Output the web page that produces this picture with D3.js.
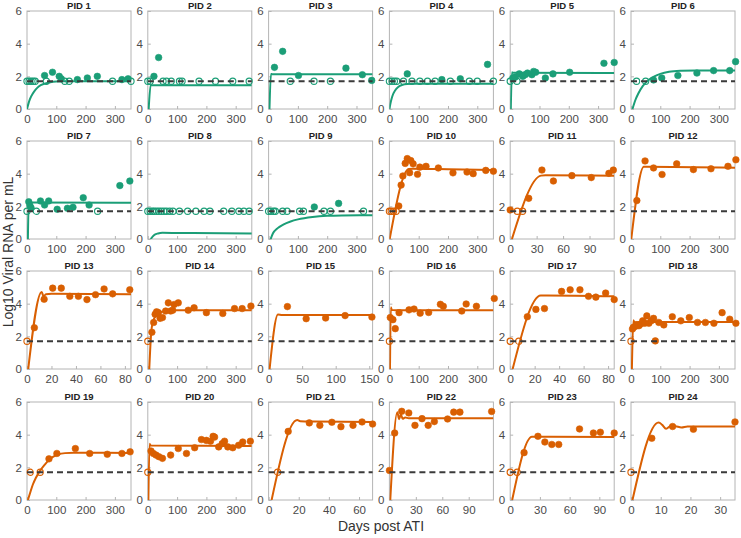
<!DOCTYPE html>
<html><head><meta charset="utf-8">
<script src="https://cdn.jsdelivr.net/npm/d3@7"></script>
<style>
body{margin:0;background:#fff;}
text{font-family:"Liberation Sans",Arial,Helvetica,sans-serif;}
</style></head>
<body>
<svg id="chart" width="741" height="538"></svg>
<script>
// ---------- DATA ----------
const pidLabels = d3.range(1, 25).map(i => "PID " + i);
const xMaxes = [355,355,355,355,355,355,355,355,355,355,118,355,85,355,155,355,85,355,355,355,69,118,105,35];
const xSteps = [100,100,100,100,100,100,100,100,100,100,30,100,20,100,50,100,20,100,100,100,20,30,30,10];
const yTicks = [0, 2, 4, 6];
const lod = 1.7;
const groupColors = ["#1b9e77", "#d95f02"];

// filled observations [day, log10 VL]
const obs1 = [[60,2.05],[87,2.25],[110,2.0],[117,1.85],[172,1.8],[206,1.9],[240,2.0],[324,1.8],[345,1.85]];
const obs2 = [[21,2.0],[37,3.15]];
const obs3 = [[20,2.55],[48,3.53],[102,2.05],[264,2.5],[320,2.1],[352,1.75]];
const obs4 = [[61,2.15],[179,1.8],[242,1.85],[335,2.73]];
const obs5 = [[9,1.9],[17,1.95],[31,2.15],[43,2.0],[51,2.1],[59,2.2],[74,2.1],[80,2.3],[87,2.25],[120,1.9],[146,2.15],[203,2.25],[320,2.8],[355,2.85]];
const obs6 = [[77,1.78],[105,1.9],[160,2.05],[225,2.2],[282,2.35],[337,2.35],[357,2.9]];
const obs7 = [[6,2.28],[10,2.05],[14,1.9],[46,2.33],[60,2.08],[74,2.33],[103,1.82],[138,1.88],[157,1.94],[192,2.53],[212,2.08],[317,3.27],[351,3.55]];
const obs8 = [];
const obs9 = [[156,1.96],[239,2.18]];
const obs10 = [[32,2.02],[40,3.3],[46,3.86],[54,4.63],[61,4.92],[69,4.06],[73,4.8],[81,4.6],[96,3.96],[104,4.4],[125,4.45],[167,4.35],[217,4.05],[265,4.1],[286,4.0],[329,4.2],[355,4.15]];
const obs11 = [[0,1.78],[21,2.49],[36,4.22],[49,3.55],[70,3.88],[92,3.76],[112,4.02],[117,4.22]];
const obs12 = [[20,2.35],[48,4.78],[77,4.35],[106,3.95],[156,4.6],[213,4.25],[273,4.3],[331,4.45],[358,4.85]];
const obs13 = [[6,2.53],[14,4.27],[21,4.95],[28,4.95],[35,4.45],[42,4.45],[49,4.25],[56,4.55],[63,4.9],[70,4.6],[84,4.85]];
const obs14 = [[14,2.25],[20,2.85],[25,3.35],[30,3.5],[36,3.45],[42,3.1],[50,3.15],[61,3.55],[70,4.05],[78,3.55],[85,3.6],[90,3.95],[104,4.05],[138,3.6],[158,3.75],[200,3.45],[256,3.4],[296,3.7],[322,3.7],[352,3.85]];
const obs15 = [[28,3.82],[56,3.08],[85,3.12],[114,3.27],[154,3.18]];
const obs16 = [[3,3.15],[12,3.02],[20,2.47],[33,3.45],[67,3.62],[84,3.67],[105,3.42],[134,3.46],[174,3.96],[184,3.84],[247,3.55],[262,3.98],[297,3.84],[358,4.32]];
const obs17 = [[14,3.2],[21,3.65],[28,3.7],[42,4.75],[49,4.85],[57,4.85],[64,4.45],[70,4.4],[78,4.65],[85,4.25]];
const obs18 = [[5,2.45],[8,2.55],[14,2.6],[20,2.7],[27,2.65],[33,2.75],[40,2.95],[47,2.8],[54,3.25],[61,2.8],[69,2.95],[77,3.1],[83,1.72],[95,2.85],[112,2.7],[141,3.2],[170,2.95],[199,3.15],[227,2.85],[254,2.85],[283,2.8],[311,3.45],[337,3.05],[358,2.8]];
const obs19 = [[75,2.52],[102,2.85],[165,3.15],[214,2.85],[274,2.8],[324,2.85],[352,2.95]];
const obs20 = [[11,3.0],[19,2.85],[28,2.75],[38,2.65],[50,2.55],[78,2.75],[104,3.15],[132,2.85],[160,3.2],[183,3.7],[200,3.65],[214,3.6],[223,3.9],[228,3.85],[242,3.25],[254,3.45],[262,3.6],[273,3.25],[290,3.2],[310,3.35],[324,3.55],[350,3.6]];
const obs21 = [[13,4.2],[27,4.72],[34,4.57],[42,4.76],[48,4.49],[56,4.57],[62,4.78],[69,4.65]];
const obs22 = [[0,1.81],[6,4.1],[14,5.43],[22,5.33],[29,4.57],[37,4.98],[44,4.57],[51,4.8],[66,4.96],[73,5.38],[80,5.38],[116,5.42]];
const obs23 = [[14,2.9],[28,3.9],[35,3.55],[42,3.4],[49,3.4],[70,4.35],[84,4.1],[91,4.15],[105,4.1]];
const obs24 = [[7,3.78],[14,4.5],[21,4.33],[35,4.78]];

// censored (below LOD) sampling days, drawn as open circles at the LOD
const cens1 = [0,7,14,21,28,66,129,144,292,355];
const cens2 = [0,8,52,64,80,108,117,175,231,290,346];
const cens3 = [74,155,211];
const cens4 = [0,9,17,25,48,77,104,130,156,208,273,300,355];
const cens5 = [0,23];
const cens6 = [19,50];
const cens7 = [0,32,241];
const cens8 = [0,8,16,22,30,38,46,55,64,75,86,108,136,164,192,212,259,287,311,328,346];
const cens9 = [0,8,17,23,48,63,106,119,189,211,324];
const cens10 = [0,6,14,23];
const cens11 = [8,14];
const cens12 = [];
const cens13 = [0];
const cens14 = [0];
const cens15 = [];
const cens16 = [0];
const cens17 = [0,7];
const cens18 = [0];
const cens19 = [11,45];
const cens20 = [0];
const cens21 = [6];
const cens22 = [];
const cens23 = [0,7];
const cens24 = [0];

// model fit curves [day, log10 VL]
const fit1 = [[0,0],[5,0.33],[10,0.6],[20,0.95],[30,1.2],[40,1.38],[60,1.55],[80,1.64],[100,1.68],[130,1.7],[355,1.7]];
const fit2 = [[3,0],[10,1.48],[14,1.46],[355,1.45]];
const fit3 = [[3,0],[8,2.15],[12,2.13],[355,2.12]];
const fit4 = [[0,0],[5,0.45],[10,0.78],[20,1.15],[30,1.35],[45,1.48],[60,1.53],[80,1.55],[355,1.55]];
const fit5 = [[2,0],[6,2.25],[10,2.22],[355,2.21]];
const fit6 = [[5,0],[15,0.55],[25,0.95],[40,1.4],[60,1.78],[80,2.0],[100,2.15],[130,2.28],[170,2.34],[220,2.36],[355,2.36]];
const fit7 = [[3,0],[6,2.25],[10,2.23],[355,2.22]];
const fit8 = [[10,0],[20,0.22],[35,0.34],[50,0.38],[100,0.37],[355,0.33]];
const fit9 = [[7,0],[15,0.35],[30,0.65],[50,0.88],[75,1.07],[100,1.2],[150,1.35],[200,1.42],[250,1.44],[355,1.45]];
const fit10 = [[1,0],[66,4.28],[80,4.3],[200,4.27],[355,4.22]];
const fit11 = [[2,0],[35,3.88],[40,3.9],[118,3.88]];
const fit12 = [[1,0],[44,4.42],[50,4.42],[355,4.36]];
const fit13 = [[1,0],[12,4.72],[13.5,4.45],[15.5,4.58],[20,4.6],[85,4.58]];
const fit14 = [[5,0],[12,2.3],[16,2.8],[22,3.1],[30,3.3],[45,3.48],[65,3.56],[100,3.6],[355,3.6]];
const fit15 = [[1.5,0],[14,3.33],[20,3.3],[155,3.3]];
const fit16 = [[2,0],[5,3.78],[8,3.62],[20,3.6],[355,3.6]];
const fit17 = [[2,0],[25,4.5],[30,4.5],[85,4.45]];
const fit18 = [[3,0],[8,2.98],[12,2.86],[30,2.87],[355,2.87]];
const fit19 = [[3,0],[10,0.4],[20,0.95],[30,1.35],[45,1.8],[60,2.15],[75,2.45],[90,2.65],[105,2.78],[130,2.87],[160,2.89],[355,2.88]];
const fit20 = [[2,0],[6,3.45],[10,3.33],[355,3.3]];
const fit21 = [[2,0],[19,4.9],[21,4.82],[30,4.8],[69,4.77]];
const fit22 = [[1,0],[9,5.38],[11,4.95],[13,5.25],[15,4.97],[18,5.05],[22,5.0],[118,5.0]];
const fit23 = [[2,0],[22,3.88],[25,3.88],[105,3.85]];
const fit24 = [[0.5,0],[9.3,4.75],[10.5,4.6],[11.8,4.36],[13.5,4.55],[15,4.52],[17,4.44],[19,4.5],[22,4.5],[35,4.5]];

const obsList = [obs1,obs2,obs3,obs4,obs5,obs6,obs7,obs8,obs9,obs10,obs11,obs12,obs13,obs14,obs15,obs16,obs17,obs18,obs19,obs20,obs21,obs22,obs23,obs24];
const censList = [cens1,cens2,cens3,cens4,cens5,cens6,cens7,cens8,cens9,cens10,cens11,cens12,cens13,cens14,cens15,cens16,cens17,cens18,cens19,cens20,cens21,cens22,cens23,cens24];
const fitList = [fit1,fit2,fit3,fit4,fit5,fit6,fit7,fit8,fit9,fit10,fit11,fit12,fit13,fit14,fit15,fit16,fit17,fit18,fit19,fit20,fit21,fit22,fit23,fit24];

// ---------- LAYOUT ----------
const colLeft = [27, 147.8, 268.6, 389.4, 510.2, 631];
const rowTop = [11, 141, 271, 402];
const pw = 104, ph = 98;

const svg = d3.select("#chart");
const defs = svg.append("defs");

pidLabels.forEach((label, i) => {
  const col = i % 6, row = Math.floor(i / 6);
  const x0 = colLeft[col], y0 = rowTop[row];
  const color = i < 9 ? groupColors[0] : groupColors[1];
  const x = d3.scaleLinear().domain([0, xMaxes[i]]).range([0, pw]);
  const y = d3.scaleLinear().domain([0, 6]).range([ph, 0]);
  const g = svg.append("g").attr("transform", `translate(${x0},${y0})`);

  defs.append("clipPath").attr("id", "clip" + i)
    .append("rect").attr("x", 0).attr("y", 0).attr("width", pw).attr("height", ph);

  // axes box
  g.append("rect").attr("width", pw).attr("height", ph)
    .attr("fill", "none").attr("stroke", "#b4b4b4").attr("stroke-width", 1);

  const xt = d3.range(0, xMaxes[i] + 0.001, xSteps[i]);
  const xAxis = d3.axisBottom(x).tickValues(xt).tickSize(-3).tickPadding(6).tickFormat(d3.format("d"));
  const yAxis = d3.axisLeft(y).tickValues(yTicks).tickSize(-3).tickPadding(5).tickFormat(d3.format("d"));
  const gx = g.append("g").attr("transform", `translate(0,${ph})`).call(xAxis);
  const gy = g.append("g").call(yAxis);
  [gx, gy].forEach(a => {
    a.select(".domain").remove();
    a.selectAll(".tick line").attr("stroke", "#b4b4b4");
    a.selectAll(".tick text").attr("fill", "#4a4a4a").attr("font-size", 11.5)
      .attr("font-family", '"Liberation Sans",Arial,sans-serif');
  });

  // title
  g.append("text").attr("x", pw / 2).attr("y", -2.5).attr("text-anchor", "middle")
    .attr("font-size", 9.5).attr("font-weight", "bold").attr("fill", "#222").text(label);

  // fit curve
  const line = d3.line().x(d => x(d[0])).y(d => y(d[1])).curve(d3.curveMonotoneX);
  g.append("path").datum(fitList[i]).attr("d", line)
    .attr("fill", "none").attr("stroke", color).attr("stroke-width", 2)
    .attr("clip-path", `url(#clip${i})`);

  // filled observations
  g.selectAll("circle.obs").data(obsList[i]).join("circle").attr("class", "obs")
    .attr("cx", d => x(d[0])).attr("cy", d => y(d[1])).attr("r", 3.3)
    .attr("fill", color).attr("stroke", color).attr("stroke-width", 0.6);

  // censored (open) observations
  g.selectAll("circle.cens").data(censList[i]).join("circle").attr("class", "cens")
    .attr("cx", d => x(d)).attr("cy", y(lod)).attr("r", 3.1)
    .attr("fill", "none").attr("stroke", color).attr("stroke-width", 1.1);

  // LOD dashed line
  g.append("line").attr("x1", x(0)).attr("x2", pw).attr("y1", y(lod)).attr("y2", y(lod))
    .attr("stroke", "#3a3a3a").attr("stroke-width", 1.8).attr("stroke-dasharray", "6,4");
});

// axis titles
svg.append("text").attr("transform", "translate(13,252) rotate(-90)")
  .attr("text-anchor", "middle").attr("font-size", 14).attr("fill", "#333")
  .text("Log10 Viral RNA per mL");
svg.append("text").attr("x", 381).attr("y", 531)
  .attr("text-anchor", "middle").attr("font-size", 14).attr("fill", "#333")
  .text("Days post ATI");
</script>
</body></html>
